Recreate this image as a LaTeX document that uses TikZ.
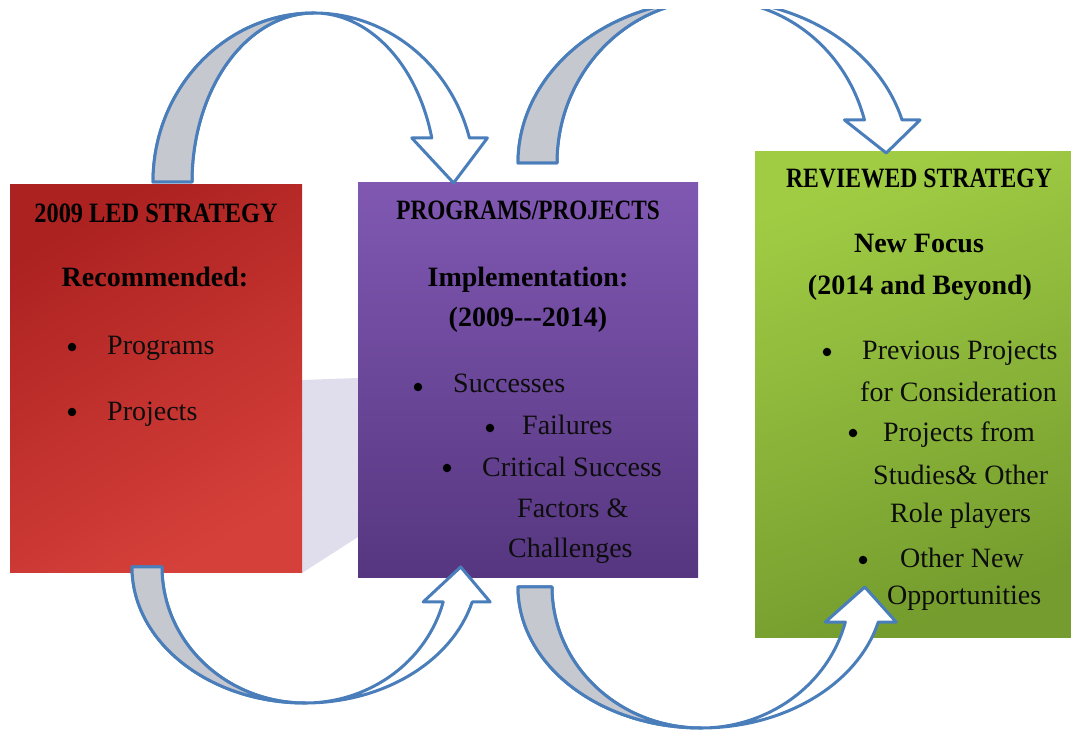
\documentclass[tikz,border=0pt]{standalone}
\usepackage{fontspec}
\setmainfont{Liberation Serif}
\usepackage{graphicx}
\usepackage{tikz}
\usetikzlibrary{positioning}

\definecolor{ledtop}{RGB}{172,34,33}
\definecolor{ledbot}{RGB}{214,64,58}
\definecolor{progtop}{RGB}{128,88,178}
\definecolor{progbot}{RGB}{86,54,128}
\definecolor{revtop}{RGB}{160,204,68}
\definecolor{revbot}{RGB}{116,156,46}
\definecolor{arrowblue}{RGB}{74,126,187}
\definecolor{arrowgray}{RGB}{198,200,208}
\definecolor{floorgray}{RGB}{224,222,236}

% curved block arrow: cx, cy, outer rx, inner rx, ry, head angle, head length, crest angle
\newcommand{\curvedarrow}[8]{%
  \pgfmathsetmacro\ahxo{#1+#3*cos(#6)}%
  \pgfmathsetmacro\ahxi{#1+#4*cos(#6)}%
  \pgfmathsetmacro\ahy{#2+#5*sin(#6)}%
  \pgfmathsetmacro\atipx{(\ahxo+\ahxi)/2+3}%
  \pgfmathsetmacro\atipy{\ahy+#7}%
  % front face, crest to head
  \draw[arrowline, fill=white] (#1-#3,#2)
    arc[start angle=180, end angle=#6, x radius=#3pt, y radius=#5pt]
    -- (\ahxo+18,\ahy) -- (\atipx,\atipy) -- (\ahxi-20,\ahy) -- (\ahxi,\ahy)
    arc[start angle=#6, end angle=180, x radius=#4pt, y radius=#5pt] -- cycle;
  % back face, tail to crest
  \draw[arrowline, fill=arrowgray] (#1-#3,#2)
    arc[start angle=180, end angle=#8, x radius=#3pt, y radius=#5pt]
    arc[start angle=#8, end angle=180, x radius=#4pt, y radius=#5pt] -- cycle;
}

\begin{document}
\begin{tikzpicture}[x=1pt, y=1pt,
    stage/.style={inner sep=0pt},
    heading/.style={font=\fontsize{28}{34}\selectfont\bfseries, inner sep=0pt, anchor=base, text=black},
    item/.style={font=\fontsize{28}{34}\selectfont, inner sep=0pt, anchor=base west, text=black!95},
    dot/.style={circle, fill=black, inner sep=0pt, minimum size=8.5pt},
    arrowline/.style={draw=arrowblue, line width=3pt, line join=round}]
  \useasboundingbox (0,0) rectangle (1071,731);

  % floor shade between the first two boxes
  \fill[floorgray] (302,351) -- (358,353) -- (358,194) -- (302,158) -- cycle;

  % the three stages
  \node[stage, minimum width=292pt, minimum height=388pt, top color=ledtop, bottom color=ledbot, shading angle=30] (led) at (156,352) {};
  \node[stage, minimum width=340pt, minimum height=395pt, top color=progtop, bottom color=progbot] (prog) at (528,350.5) {};
  \node[stage, minimum width=316pt, minimum height=486pt, top color=revtop, bottom color=revbot, shading angle=20] (rev) at (913,336) {};

  % curved arrows over the top and under the bottom
  \curvedarrow{314}{549}{161}{122}{169}{15.1}{-45}{90}
  \begin{scope}
    \clip (0,0) rectangle (1071,721);
    \curvedarrow{713.5}{568}{195.5}{156.5}{163}{15.3}{-33}{90}
  \end{scope}
  \curvedarrow{305}{164}{173}{143}{136}{345.1}{35}{270}
  \curvedarrow{701}{144}{183}{149}{141}{345.6}{35}{270}

  % 2009 LED strategy
  \node[heading] (ledtitle) at (156,508) {\scalebox{0.87}[1]{2009 LED STRATEGY}};
  \node[heading] (ledsub) at (155,444) {Recommended:};
  \node[dot] (leddot1) at (72,384) {};
  \node[item] (leditem1) at (107,376) {Programs};
  \node[dot] (leddot2) at (72,319) {};
  \node[item] (leditem2) at (107,310) {Projects};

  % programs and projects
  \node[heading] (progtitle) at (528,511) {\scalebox{0.83}[1]{PROGRAMS/PROJECTS}};
  \node[heading] (progsub) at (528,444) {Implementation:};
  \node[heading] (progyears) at (528,404) {(2009-{}-{}-2014)};
  \node[dot] (progdot1) at (418,344) {};
  \node[item] (progitem1) at (453,338) {Successes};
  \node[dot] (progdot2) at (490,303) {};
  \node[item] (progitem2) at (522,296) {Failures};
  \node[dot] (progdot3) at (447,263) {};
  \node[item] (progitem3) at (482,254) {Critical Success};
  \node[item] (progitem3b) at (517,213) {Factors \&};
  \node[item] (progitem3c) at (508,173) {Challenges};

  % reviewed strategy
  \node[heading] (revtitle) at (919,543) {\scalebox{0.845}[1]{REVIEWED STRATEGY}};
  \node[heading] (revsub) at (919,478) {New Focus};
  \node[heading] (revyears) at (920,436) {(2014 and Beyond)};
  \node[dot] (revdot1) at (827,379) {};
  \node[item] (revitem1) at (862,371) {Previous Projects};
  \node[item] (revitem1b) at (860,329) {for Consideration};
  \node[dot] (revdot2) at (853,298) {};
  \node[item] (revitem2) at (883,289) {Projects from};
  \node[item] (revitem2b) at (873,246) {Studies\& Other};
  \node[item] (revitem2c) at (890,208) {Role players};
  \node[dot] (revdot3) at (863,171) {};
  \node[item] (revitem3) at (900,163) {Other New};
  \node[item] (revitem3b) at (887,126) {Opportunities};
\end{tikzpicture}
\end{document}
